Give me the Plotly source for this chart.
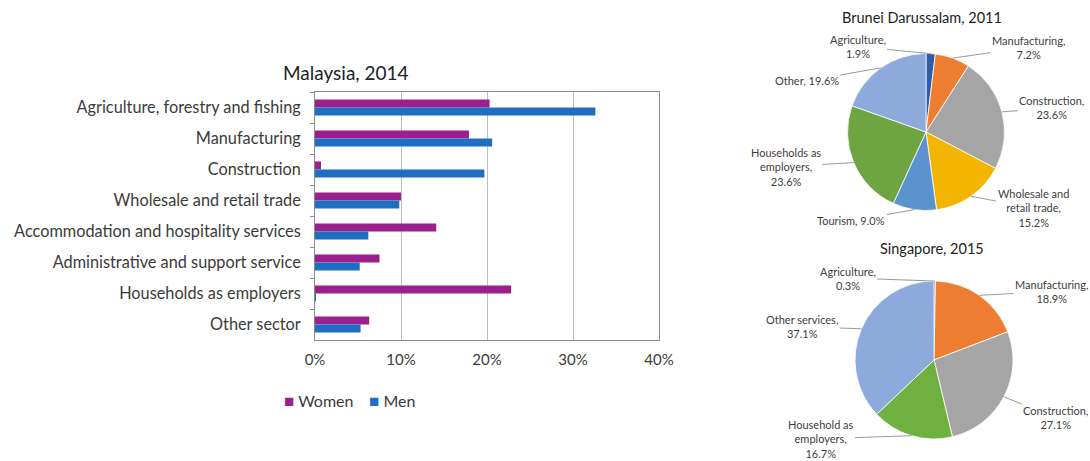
import numpy as np
import plotly.graph_objects as go

W, H = 1090, 461

# Malaysia, 2014: share of migrant workers by sector (%)
my_sectors = [
    "Agriculture, forestry and fishing",
    "Manufacturing",
    "Construction",
    "Wholesale and retail trade",
    "Accommodation and hospitality services",
    "Administrative and support service",
    "Households as employers",
    "Other sector",
]
my_women = [20.3, 17.9, 0.7, 10.0, 14.1, 7.5, 22.8, 6.3]
my_men = [32.6, 20.6, 19.7, 9.8, 6.2, 5.2, 0.1, 5.3]
x_ticks = [0, 10, 20, 30, 40]

# Brunei Darussalam, 2011
bn_labels = ["Agriculture", "Manufacturing", "Construction",
             "Wholesale and<br>retail trade", "Tourism",
             "Households as<br>employers", "Other"]
bn_values = [1.9, 7.2, 23.6, 15.2, 9.0, 23.6, 19.6]

# Singapore, 2015
sg_labels = ["Agriculture", "Manufacturing", "Construction",
             "Household as<br>employers", "Other services"]
sg_values = [0.3, 18.9, 27.1, 16.7, 37.1]

FONT = "Lato"
TEXT = "#3b3b3b"
WOMEN = "#9C1F8E"
MEN = "#1E6FC1"

bn_colors = ["#2F5BA8", "#ED7D31", "#A5A5A5", "#F2B500", "#5B93CF", "#6FA443", "#8EA9DB"]
sg_colors = ["#2F5BA8", "#ED7D31", "#A5A5A5", "#6FB041", "#8EA9DB"]

fig = go.Figure()

fig.add_trace(go.Bar(y=my_sectors, x=my_women, name="Women", orientation="h",
                     showlegend=False, marker=dict(color=WOMEN, line=dict(width=0))))
fig.add_trace(go.Bar(y=my_sectors, x=my_men, name="Men", orientation="h",
                     showlegend=False, marker=dict(color=MEN, line=dict(width=0))))

# pie placement in pixels: centre and radius
bn_c, bn_r = (926, 132), 78.5
sg_c, sg_r = (934, 360), 79


def pie_domain(c, r):
    return dict(x=[(c[0] - r) / W, (c[0] + r) / W],
                y=[1 - (c[1] + r) / H, 1 - (c[1] - r) / H])


for vals, labs, cols, c, r in [(bn_values, bn_labels, bn_colors, bn_c, bn_r),
                               (sg_values, sg_labels, sg_colors, sg_c, sg_r)]:
    fig.add_trace(go.Pie(values=vals, labels=labs, sort=False, direction="clockwise",
                         rotation=0, textinfo="none", showlegend=False,
                         marker=dict(colors=cols, line=dict(color="white", width=0.8)),
                         domain=pie_domain(c, r)))


def pie_labels(values, names, c, r, offsets, seps):
    total = float(sum(values))
    cum = 0.0
    anns = []
    for v, name, (ax, ay), sep in zip(values, names, offsets, seps):
        theta = 2 * np.pi * (cum + v / 2) / total
        cum += v
        tx = c[0] + r * np.sin(theta)
        ty = c[1] - r * np.cos(theta)
        anns.append(dict(
            x=tx / W, y=1 - ty / H, xref="paper", yref="paper",
            text=f"{name},{sep}{v:.1f}%", showarrow=True, arrowhead=0,
            arrowwidth=0.8, arrowcolor="#808080", ax=ax, ay=ay,
            font=dict(family=FONT, size=11, color="#404040"), align="center"))
    return anns


bn_offsets = [(-73, -7), (76, -11), (50, -4), (62, 12), (-63, 11), (-68, 4), (-74, 13)]
bn_seps = ["<br>", "<br>", "<br>", "<br>", " ", "<br>", " "]
sg_offsets = [(-87, -3), (72, -4), (52, 21), (-91, 3), (-59, -2)]
sg_seps = ["<br>", "<br>", "<br>", "<br>", "<br>"]

annotations = []
annotations += pie_labels(bn_values, bn_labels, bn_c, bn_r, bn_offsets, bn_seps)
annotations += pie_labels(sg_values, sg_labels, sg_c, sg_r, sg_offsets, sg_seps)


def label(text, x, y, size, anchor="center", color="#222222"):
    return dict(text=text, x=x / W, y=1 - y / H, xref="paper", yref="paper",
                xanchor=anchor, yanchor="middle", showarrow=False,
                font=dict(family=FONT, size=size, color=color))


annotations += [
    label("Malaysia, 2014", 346, 72, 19),
    label("Brunei Darussalam, 2011", 922, 17, 14.5),
    label("Singapore, 2015", 932, 248, 14.5),
]

# legend of the bar chart: coloured squares followed by the series names
for name, col, x0 in [("Women", WOMEN, 282), ("Men", MEN, 367)]:
    annotations.append(label(
        f"<span style='color:{col};font-size:17px'>■</span> {name}", x0, 400, 16,
        anchor="left", color=TEXT))

fig.update_layout(
    width=W, height=H,
    margin=dict(l=0, r=0, t=0, b=0),
    paper_bgcolor="white", plot_bgcolor="white",
    font=dict(family=FONT, color=TEXT),
    barmode="group", bargap=0.48, bargroupgap=0,
    annotations=annotations,
    showlegend=False,
    xaxis=dict(domain=[315 / W, 659 / W], range=[0, 40], tickvals=x_ticks,
               ticktext=[f"{t}%" for t in x_ticks], showgrid=True, gridcolor="#BDBDBD",
               gridwidth=1, showline=True, linecolor="#8C8C8C", mirror=True, zeroline=False,
               ticks="", ticklabelstandoff=6,
               tickfont=dict(family=FONT, size=15, color=TEXT), automargin=False),
    yaxis=dict(domain=[1 - 340 / H, 1 - 92 / H], autorange="reversed", type="category",
               categoryorder="array", categoryarray=my_sectors,
               showline=True, linecolor="#8C8C8C", mirror=True, ticks="outside",
               tickson="boundaries", ticklen=4, tickcolor="#8C8C8C",
               ticklabelstandoff=10,
               tickfont=dict(family=FONT, size=16.3, color=TEXT), automargin=False,
               showgrid=False),
)

fig.write_html("out.html")
